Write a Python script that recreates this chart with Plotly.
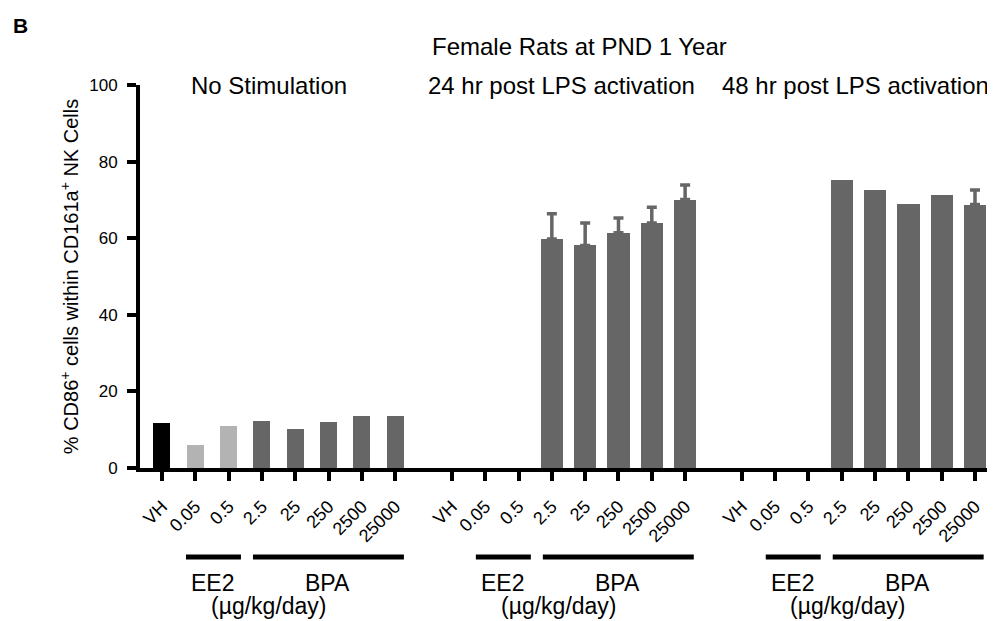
import plotly.graph_objects as go

# ---- data ----
dose_labels = ["VH", "0.05", "0.5", "2.5", "25", "250", "2500", "25000"]
panel_titles = ["No Stimulation", "24 hr post LPS activation", "48 hr post LPS activation"]
main_title = "Female Rats at PND 1 Year"
y_title = "% CD86<sup>+</sup> cells within CD161a<sup>+</sup> NK Cells"

no_stim = [11.8, 6.1, 11.0, 12.3, 10.2, 12.0, 13.6, 13.6]
no_stim_colors = ["#000000", "#b3b3b3", "#b3b3b3", "#666666", "#666666", "#666666", "#666666", "#666666"]

bpa_doses = ["2.5", "25", "250", "2500", "25000"]
lps24 = [59.8, 58.1, 61.4, 64.0, 70.1]
lps24_err = [6.6, 5.9, 3.9, 4.1, 3.8]
lps48 = [75.3, 72.6, 68.9, 71.2, 68.8]
lps48_err = [None, None, None, None, 3.8]

y_ticks = [0, 20, 40, 60, 80, 100]

# ---- layout helpers ----
GROUP_STEP = 8.7
FONT = "Arial, Liberation Sans, sans-serif"
DARK = "#666666"

def xpos(g, lab):
    return g * GROUP_STEP + dose_labels.index(lab)

fig = go.Figure()

fig.add_trace(go.Bar(
    x=[xpos(0, d) for d in dose_labels], y=no_stim,
    width=[0.51] * len(no_stim),
    marker=dict(color=no_stim_colors, line=dict(width=0)),
    showlegend=False,
))

for g, vals, errs in [(1, lps24, lps24_err), (2, lps48, lps48_err)]:
    xs = [xpos(g, d) for d in bpa_doses]
    fig.add_trace(go.Bar(
        x=xs, y=vals, width=[0.67] * len(vals),
        marker=dict(color=DARK, line=dict(width=0)),
        showlegend=False,
    ))
    # upper error bars only where a SEM is visible
    ex = [x for x, e in zip(xs, errs) if e is not None]
    ey = [v for v, e in zip(vals, errs) if e is not None]
    ee = [e for e in errs if e is not None]
    fig.add_trace(go.Scatter(
        x=ex, y=ey, mode="markers", marker=dict(size=0.1, color=DARK, opacity=0),
        error_y=dict(type="data", symmetric=False, array=ee,
                     arrayminus=[0] * len(ee), color=DARK, thickness=3.5, width=5),
        showlegend=False, hoverinfo="skip",
    ))

tickvals, ticktext = [], []
for g in range(3):
    for d in dose_labels:
        tickvals.append(xpos(g, d))
        ticktext.append(d)

# page body has an 8px margin, so the figure is drawn 8px in from the corner
fig.update_layout(
    width=987, height=613,
    margin=dict(l=132, r=0, t=77, b=153, autoexpand=False),
    paper_bgcolor="white", plot_bgcolor="white",
    font=dict(family=FONT, color="black"),
    bargap=0,
    xaxis=dict(
        range=[-0.66, 25.0], tickvals=tickvals, ticktext=ticktext,
        tickangle=-45, tickfont=dict(size=18, family=FONT),
        ticks="outside", ticklen=9, tickwidth=4, tickcolor="black",
        showline=True, linewidth=4, linecolor="black",
        showgrid=False, zeroline=False, ticklabelstandoff=8,
    ),
    yaxis=dict(
        range=[0, 100], tickvals=y_ticks,
        tickfont=dict(size=17, family=FONT),
        ticks="outside", ticklen=9, tickwidth=4, tickcolor="black",
        showline=True, linewidth=4, linecolor="black",
        showgrid=False, zeroline=False, ticklabelstandoff=6,
        title=dict(text=y_title, font=dict(size=20, family=FONT), standoff=6),
    ),
)

def px_to_paper_x(px):
    return (px - 140) / 855.0

def px_to_paper_y(py):
    return (468 - py) / 383.0

def note(text, x, y, size, xref="paper"):
    fig.add_annotation(text=text, xref=xref, yref="paper", x=x, y=y,
                       xanchor="center", yanchor="middle", showarrow=False,
                       font=dict(size=size, family=FONT, color="black"))

# header texts
note("<b>B</b>", px_to_paper_x(20), px_to_paper_y(25), 21)
note(main_title, px_to_paper_x(579), px_to_paper_y(46), 24)
for cx, t in zip([269, 561, 855], panel_titles):
    note(t, px_to_paper_x(cx), px_to_paper_y(85), 24)

# group brackets under the axis
line_y = px_to_paper_y(557)
for g in range(3):
    off = g * GROUP_STEP
    fig.add_shape(type="line", xref="x", yref="paper",
                  x0=off + 0.72, x1=off + 2.37, y0=line_y, y1=line_y,
                  line=dict(color="black", width=5))
    fig.add_shape(type="line", xref="x", yref="paper",
                  x0=off + 2.73, x1=off + 7.26, y0=line_y, y1=line_y,
                  line=dict(color="black", width=5))
    note("EE2", off + 1.53, px_to_paper_y(583), 23, xref="x")
    note("BPA", off + 4.98, px_to_paper_y(583), 23, xref="x")
    note("(µg/kg/day)", off + 3.2, px_to_paper_y(606), 23, xref="x")

fig.write_html("out.html")
